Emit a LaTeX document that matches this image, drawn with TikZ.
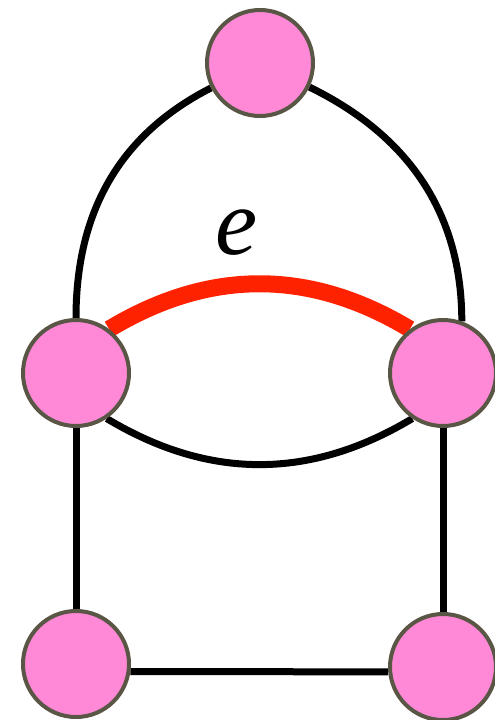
\documentclass[tikz,border=0pt]{standalone}
\usepackage{fontspec}
\setmainfont{Liberation Serif}
\newfontfamily\labfont{Liberation Serif Italic}
\usepackage{tikz}
\usetikzlibrary{positioning,backgrounds}
\usepackage{xcolor}
\definecolor{vpink}{HTML}{FF89D6}
\definecolor{vrim}{HTML}{5A5646}
\definecolor{ered}{HTML}{FF2200}

\begin{document}
\begin{tikzpicture}[x=1pt,y=-1pt,
    vert/.style={circle,draw=vrim,fill=vpink,line width=4pt,minimum size=106pt,inner sep=0pt},
    edg/.style={line width=7pt,black},
    hot/.style={line width=17pt,ered}
]
\useasboundingbox (0,0) rectangle (495,720);
\node[vert] (t) at (260,63) {};
\node[vert] (ml) at (76,373) {};
\node[vert] (mr) at (443,373) {};
\node[vert] (bl) at (76,664) {};
\node[vert] (br) at (443,667) {};

\begin{scope}[on background layer]
\draw[edg] (t) to[out=207,in=90] (ml.north);
\draw[edg] (t) to[out=-26,in=90] (mr.70);
\draw[hot] (ml.53) to[out=31,in=149] (mr.127);
\draw[edg] (ml.-56) to[out=-31,in=-149] (mr.-124);

\draw[edg] (ml) -- (bl);
\draw[edg] (mr) -- (br);
\draw[edg] (bl.-8) -- (br.185);
\end{scope}

\node[inner sep=0pt,font=\fontsize{95}{95}\selectfont\labfont] (lbl) at (237,233) {e};
\end{tikzpicture}
\end{document}
